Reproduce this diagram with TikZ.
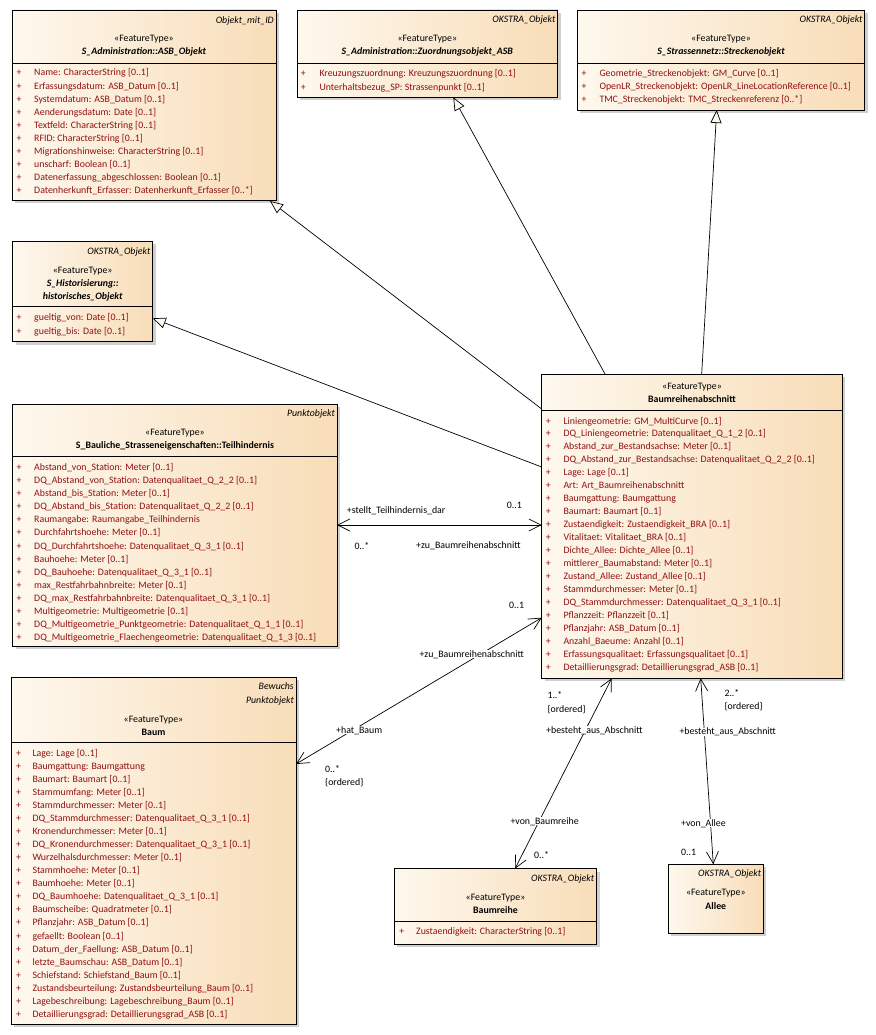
\documentclass[tikz,border=0pt]{standalone}
\usepackage{fontspec}
\setmainfont{Carlito}
\usetikzlibrary{arrows.meta,shadows,calc}
\definecolor{cream}{RGB}{254,248,238}
\definecolor{tan}{RGB}{248,221,184}
\definecolor{attrred}{RGB}{145,16,16}
\definecolor{shadowgrey}{RGB}{208,208,208}
\newcommand\uf{\fontsize{9.85pt}{11pt}\selectfont}
\tikzset{
  umlbox/.style={draw=black, line width=0.9pt, left color=cream, right color=tan,
    anchor=north west, inner sep=0pt, outer sep=0pt,
    drop shadow={shadow xshift=3pt, shadow yshift=-3pt, fill=shadowgrey, opacity=1}},
  txt/.style={inner sep=0pt, font=\uf, text height=7pt, text depth=1pt},
  attr/.style={txt, anchor=west, text=attrred},
  plus/.style={txt, text=attrred},
  stereo/.style={txt},
  cname/.style={txt, font=\uf\bfseries\itshape},
  bname/.style={txt, font=\uf\bfseries},
  tagr/.style={txt, anchor=east, font=\uf\itshape},
  lab/.style={txt, anchor=west},
  wlab/.style={txt, anchor=west, fill=white, inner xsep=1pt},
  gen/.style={line width=0.7pt, -{Triangle[length=13pt, width=11pt, fill=cream, line width=0.7pt]}},
  assoc/.style={line width=0.7pt, {Straight Barb[length=12pt, width=12pt, line width=0.7pt]}-{Straight Barb[length=12pt, width=12pt, line width=0.7pt]}}
}
\newcommand\umlnode[6]{%
  \node[umlbox, minimum width={(#4-#2)*1pt}, minimum height={(#5-#3)*1pt}] (#1) at (#2,#3) {};
  \ifx&#6&\else\draw[line width=0.9pt] (#1.west |- 0,#6) -- (#1.east |- 0,#6);\fi}
\newcommand\attrlist[6]{%
  \foreach \t [count=\i from 0] in {#6} {
    \node[plus] (#1p\i) at (#2, {#4+\i*#5}) {+};
    \node[attr] (#1a\i) at (#3, {#4+\i*#5}) {\t};
  }}
\begin{document}
\catcode`\_=12
\begin{tikzpicture}[x=1pt, y=-1pt]
\useasboundingbox (0,0) rectangle (875,1035);

% ---------- boxes ----------
\umlnode{asb}{12}{10}{276}{200}{63}
\node[tagr] (asbt) at (274,21) {Objekt_mit_ID};
\node[stereo] (asbs) at (144,39) {«FeatureType»};
\node[cname] (asbn) at (144,52) {S_Administration::ASB_Objekt};
\attrlist{asb}{19}{34}{73}{13.1}{Name: CharacterString [0..1],Erfassungsdatum: ASB_Datum [0..1],Systemdatum: ASB_Datum [0..1],Aenderungsdatum: Date [0..1],Textfeld: CharacterString [0..1],RFID: CharacterString [0..1],Migrationshinweise: CharacterString [0..1],unscharf: Boolean [0..1],Datenerfassung_abgeschlossen: Boolean [0..1],Datenherkunft_Erfasser: Datenherkunft_Erfasser [0..*]}

\umlnode{zuo}{297}{10}{557.5}{97.3}{63.3}
\node[tagr] (zuot) at (555.5,20) {OKSTRA_Objekt};
\node[stereo] (zuos) at (427.3,39) {«FeatureType»};
\node[cname] (zuon) at (427.3,52) {S_Administration::Zuordnungsobjekt_ASB};
\attrlist{zuo}{303.3}{319.3}{73.3}{14}{Kreuzungszuordnung: Kreuzungszuordnung [0..1],Unterhaltsbezug_SP: Strassenpunkt [0..1]}

\umlnode{str}{577.3}{10.5}{864.7}{110}{63.3}
\node[tagr] (strt) at (862.7,20) {OKSTRA_Objekt};
\node[stereo] (strs) at (721,39) {«FeatureType»};
\node[cname] (strn) at (721,52) {S_Strassennetz::Streckenobjekt};
\attrlist{str}{584}{599.3}{73.3}{13.3}{Geometrie_Streckenobjekt: GM_Curve [0..1],OpenLR_Streckenobjekt: OpenLR_LineLocationReference [0..1],TMC_Streckenobjekt: TMC_Streckenreferenz [0..*]}

\umlnode{his}{12.7}{241}{152.7}{341.7}{306.7}
\node[tagr] (hist) at (150.5,251) {OKSTRA_Objekt};
\node[stereo] (hiss) at (82.7,270) {«FeatureType»};
\node[cname] (hisn) at (82.7,283.3) {S_Historisierung::};
\node[cname] (hisn2) at (82.7,296) {historisches_Objekt};
\attrlist{his}{19}{34}{317.3}{13.7}{gueltig_von: Date [0..1],gueltig_bis: Date [0..1]}

\umlnode{tei}{12.7}{404}{337}{646}{456.7}
\node[tagr] (teit) at (335,413.3) {Punktobjekt};
\node[stereo] (teis) at (175,432.7) {«FeatureType»};
\node[bname] (tein) at (175,445) {S_Bauliche_Strasseneigenschaften::Teilhindernis};
\attrlist{tei}{19}{34}{467.7}{13.05}{Abstand_von_Station: Meter [0..1],DQ_Abstand_von_Station: Datenqualitaet_Q_2_2 [0..1],Abstand_bis_Station: Meter [0..1],DQ_Abstand_bis_Station: Datenqualitaet_Q_2_2 [0..1],Raumangabe: Raumangabe_Teilhindernis,Durchfahrtshoehe: Meter [0..1],DQ_Durchfahrtshoehe: Datenqualitaet_Q_3_1 [0..1],Bauhoehe: Meter [0..1],DQ_Bauhoehe: Datenqualitaet_Q_3_1 [0..1],max_Restfahrbahnbreite: Meter [0..1],DQ_max_Restfahrbahnbreite: Datenqualitaet_Q_3_1 [0..1],Multigeometrie: Multigeometrie [0..1],DQ_Multigeometrie_Punktgeometrie: Datenqualitaet_Q_1_1 [0..1],DQ_Multigeometrie_Flaechengeometrie: Datenqualitaet_Q_1_3 [0..1]}

\umlnode{bra}{541.7}{374}{842.3}{678.3}{410.7}
\node[stereo] (bras) at (692,386) {«FeatureType»};
\node[bname] (bran) at (692,399) {Baumreihenabschnitt};
\attrlist{bra}{548.3}{563.3}{421}{12.98}{Liniengeometrie: GM_MultiCurve [0..1],DQ_Liniengeometrie: Datenqualitaet_Q_1_2 [0..1],Abstand_zur_Bestandsachse: Meter [0..1],DQ_Abstand_zur_Bestandsachse: Datenqualitaet_Q_2_2 [0..1],Lage: Lage [0..1],Art: Art_Baumreihenabschnitt,Baumgattung: Baumgattung,Baumart: Baumart [0..1],Zustaendigkeit: Zustaendigkeit_BRA [0..1],Vitalitaet: Vitalitaet_BRA [0..1],Dichte_Allee: Dichte_Allee [0..1],mittlerer_Baumabstand: Meter [0..1],Zustand_Allee: Zustand_Allee [0..1],Stammdurchmesser: Meter [0..1],DQ_Stammdurchmesser: Datenqualitaet_Q_3_1 [0..1],Pflanzzeit: Pflanzzeit [0..1],Pflanzjahr: ASB_Datum [0..1],Anzahl_Baeume: Anzahl [0..1],Erfassungsqualitaet: Erfassungsqualitaet [0..1],Detaillierungsgrad: Detaillierungsgrad_ASB [0..1]}

\umlnode{baum}{11}{677.3}{296}{1024.3}{742.7}
\node[tagr] (baumt) at (294,686.7) {Bewuchs};
\node[tagr] (baumt2) at (294,700) {Punktobjekt};
\node[stereo] (baums) at (153.5,719.3) {«FeatureType»};
\node[bname] (baumn) at (153.5,732.3) {Baum};
\attrlist{baum}{18.7}{32.3}{753.3}{13.05}{Lage: Lage [0..1],Baumgattung: Baumgattung,Baumart: Baumart [0..1],Stammumfang: Meter [0..1],Stammdurchmesser: Meter [0..1],DQ_Stammdurchmesser: Datenqualitaet_Q_3_1 [0..1],Kronendurchmesser: Meter [0..1],DQ_Kronendurchmesser: Datenqualitaet_Q_3_1 [0..1],Wurzelhalsdurchmesser: Meter [0..1],Stammhoehe: Meter [0..1],Baumhoehe: Meter [0..1],DQ_Baumhoehe: Datenqualitaet_Q_3_1 [0..1],Baumscheibe: Quadratmeter [0..1],Pflanzjahr: ASB_Datum [0..1],gefaellt: Boolean [0..1],Datum_der_Faellung: ASB_Datum [0..1],letzte_Baumschau: ASB_Datum [0..1],Schiefstand: Schiefstand_Baum [0..1],Zustandsbeurteilung: Zustandsbeurteilung_Baum [0..1],Lagebeschreibung: Lagebeschreibung_Baum [0..1],Detaillierungsgrad: Detaillierungsgrad_ASB [0..1]}

\umlnode{brh}{394.3}{868.7}{596.7}{944}{921.7}
\node[tagr] (brht) at (594.3,878.3) {OKSTRA_Objekt};
\node[stereo] (brhs) at (495.5,897.3) {«FeatureType»};
\node[bname] (brhn) at (495.5,910) {Baumreihe};
\attrlist{brh}{401.7}{416}{931.7}{13}{Zustaendigkeit: CharacterString [0..1]}

\umlnode{all}{668.3}{864.3}{763.3}{933.3}{}
\node[tagr] (allt) at (761.3,873.7) {OKSTRA_Objekt};
\node[stereo] (alls) at (715.8,892.7) {«FeatureType»};
\node[bname] (alln) at (715.8,906) {Allee};

% ---------- generalizations ----------
\draw[gen] ($(bra.north west)+(0,35)$) -- ($(asb.south east)+(-6,1)$);
\draw[gen] ($(bra.north west)+(0,93)$) -- ($(his.north east)+(0,77.3)$);
\draw[gen] ($(bra.north west)+(63.3,0)$) -- ($(zuo.south west)+(156.3,0)$);
\draw[gen] ($(bra.north west)+(160,0)$) -- ($(str.south west)+(139.4,0)$);

% ---------- associations ----------
\draw[assoc] ($(tei.north east)+(0,121)$) -- ($(bra.north west)+(0,151)$);
\draw[assoc] ($(baum.north east)+(0,86.7)$) -- ($(bra.north west)+(0,243.7)$);
\draw[assoc] ($(brh.north west)+(120.7,0)$) -- ($(bra.south west)+(70,0)$);
\draw[assoc] ($(all.north west)+(45,0)$) -- ($(bra.south west)+(159,0)$);

% ---------- association labels ----------
\node[lab] (l1) at (346.7,510) {+stellt_Teilhindernis_dar};
\node[lab] (l2) at (506.7,505.7) {0..1};
\node[lab] (l3) at (354.3,546.7) {0..*};
\node[lab] (l4) at (416,545.7) {+zu_Baumreihenabschnitt};

\node[lab] (l5) at (509,605) {0..1};
\node[wlab] (l6) at (418.3,654) {+zu_Baumreihenabschnitt};
\node[wlab] (l7) at (335,730) {+hat_Baum};
\node[lab] (l8) at (325,769.3) {0..*};
\node[lab] (l9) at (325,782.7) {\{ordered\}};

\node[lab] (l10) at (547.3,695) {1..*};
\node[lab] (l11) at (547.3,709) {\{ordered\}};
\node[wlab] (l12) at (545,730) {+besteht_aus_Abschnitt};
\node[wlab] (l13) at (509.3,821) {+von_Baumreihe};
\node[lab] (l14) at (534,855) {0..*};

\node[lab] (l15) at (724.3,693.3) {2..*};
\node[lab] (l16) at (724.3,706.7) {\{ordered\}};
\node[wlab] (l17) at (678.3,731.7) {+besteht_aus_Abschnitt};
\node[wlab] (l18) at (680,823.3) {+von_Allee};
\node[lab] (l19) at (681,852.3) {0..1};
\end{tikzpicture}
\end{document}
